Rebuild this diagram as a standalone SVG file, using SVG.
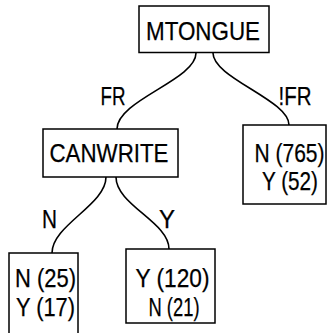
<svg xmlns="http://www.w3.org/2000/svg" width="327" height="333" viewBox="0 0 327 333">
<style>
.box{fill:#fff;stroke:#000;stroke-width:1.5}
.edge{fill:none;stroke:#000;stroke-width:1.6}
text{font-family:"Liberation Sans",Arial,sans-serif;fill:#000;text-anchor:middle;stroke:#000;stroke-width:0.25}
.big{font-size:26.5px}
.sm{font-size:25px}
</style>
<rect width="327" height="333" fill="#fff"/>
<g id="connectors">
<path class="edge" d="M196,53 C196,80 117,100 117,129"/>
<path class="edge" d="M213,53 C213,78 289,100 289,125"/>
<path class="edge" d="M106,177 C106,205 52,225 52,253"/>
<path class="edge" d="M116,177 C116,205 169,222 169,249"/>
<text class="sm" x="113" y="104.5" textLength="25" lengthAdjust="spacingAndGlyphs">FR</text>
<text class="sm" x="295" y="105" textLength="33" lengthAdjust="spacingAndGlyphs">!FR</text>
<text class="sm" x="49.5" y="228" textLength="15" lengthAdjust="spacingAndGlyphs">N</text>
<text class="sm" x="167" y="228" textLength="16" lengthAdjust="spacingAndGlyphs">Y</text>
</g>
<g id="mtongue">
<rect class="box" x="139" y="6" width="130" height="46.5"/>
<text class="big" x="203" y="39.5" textLength="114" lengthAdjust="spacingAndGlyphs">MTONGUE</text>
</g>
<g id="canwrite">
<rect class="box" x="43" y="129" width="135" height="48"/>
<text class="big" x="109" y="161.5" textLength="119" lengthAdjust="spacingAndGlyphs">CANWRITE</text>
</g>
<g id="leaf-notfr">
<rect class="box" x="243" y="125" width="83" height="79"/>
<text class="sm" x="289.5" y="161.7" textLength="70" lengthAdjust="spacingAndGlyphs">N (765)</text>
<text class="sm" x="290" y="190" textLength="56" lengthAdjust="spacingAndGlyphs">Y (52)</text>
</g>
<g id="leaf-n">
<rect class="box" x="9" y="253" width="69" height="90"/>
<text class="sm" x="45.5" y="286.5" textLength="61" lengthAdjust="spacingAndGlyphs">N (25)</text>
<text class="sm" x="45.5" y="316" textLength="59" lengthAdjust="spacingAndGlyphs">Y (17)</text>
</g>
<g id="leaf-y">
<rect class="box" x="126" y="249" width="89" height="74"/>
<text class="sm" x="172.5" y="286.5" textLength="74" lengthAdjust="spacingAndGlyphs">Y (120)</text>
<text class="sm" x="174" y="316" textLength="51" lengthAdjust="spacingAndGlyphs">N (21)</text>
</g>
</svg>
